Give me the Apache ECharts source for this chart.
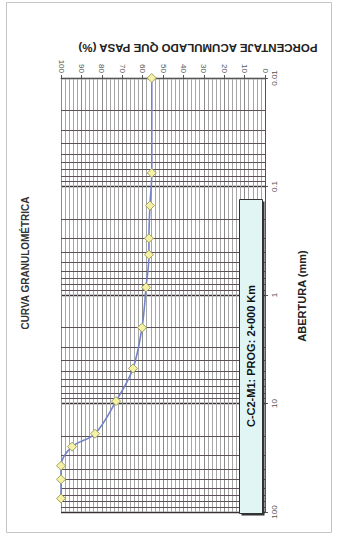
<!DOCTYPE html>
<html>
<head>
<meta charset="utf-8">
<script src="https://cdn.jsdelivr.net/npm/echarts@6/dist/echarts.min.js"></script>
<style>
  html, body { margin: 0; padding: 0; background: #ffffff; }
  #chart { width: 337px; height: 542px; }
</style>
</head>
<body>
<div id="chart"></div>
<script>
// Sieve openings (mm) and cumulative percent passing
const aberturas = [0.01, 0.075, 0.15, 0.3, 0.425, 0.85, 2.0, 4.75, 9.5, 19.0, 25.0, 37.5, 50.0, 75.0];
const pasa = [55.5, 55.5, 56.4, 56.9, 56.9, 58.3, 60.3, 64.7, 73.0, 83.3, 94.6, 100, 100, 100];

// Axis tick labels
const percentTicks = [0, 10, 20, 30, 40, 50, 60, 70, 80, 90, 100];
const sizeTicks = ['0.01', '0.1', '1', '10', '100'];
const decades = [0.01, 0.1, 1, 10];
const minorMultipliers = [2, 3, 4, 5, 6, 7, 8, 9];

const chartTitle = 'CURVA GRANULOMÉTRICA';
const percentTitle = 'PORCENTAJE ACUMULADO QUE PASA (%)';
const sizeTitle = 'ABERTURA (mm)';
const sampleName = 'C-C2-M1: PROG: 2+000 Km';

const points = aberturas.map((d, i) => [pasa[i], d]);

// Intermediate log grid lines (2..9 within each decade)
const minorLines = [];
decades.forEach(d => minorMultipliers.forEach(m => minorLines.push({ yAxis: d * m })));

const chart = echarts.init(document.getElementById('chart'), null, { renderer: 'svg' });

const FONT = '"Liberation Sans", Arial, sans-serif';

chart.setOption({
  animation: false,
  backgroundColor: '#ffffff',
  grid: { left: 61, right: 72, top: 78, bottom: 30, containLabel: false },
  xAxis: {
    type: 'value',
    position: 'top',
    min: 0,
    max: 100,
    interval: 10,
    inverse: true,
    axisLine: { show: true, lineStyle: { color: '#555555', width: 1 } },
    axisTick: { show: true, length: 3, lineStyle: { color: '#555555' } },
    axisLabel: {
      rotate: 90,
      fontSize: 8,
      color: '#555555',
      fontFamily: FONT,
      margin: 5,
      formatter: v => String(percentTicks[Math.round(v / 10)])
    },
    splitLine: { show: true, lineStyle: { color: '#8c8c8c', width: 1 } },
    minorTick: { show: false, splitNumber: 5 },
    minorSplitLine: { show: true, lineStyle: { color: '#a6a6a6', width: 1 } }
  },
  yAxis: {
    type: 'log',
    logBase: 10,
    min: 0.01,
    max: 100,
    splitNumber: 4,
    inverse: true,
    position: 'right',
    axisLine: { show: true, lineStyle: { color: '#555555', width: 1 } },
    axisTick: { show: true, length: 3, lineStyle: { color: '#555555' } },
    axisLabel: {
      rotate: 90,
      fontSize: 8,
      color: '#555555',
      fontFamily: FONT,
      margin: 5,
      formatter: v => sizeTicks[Math.round(Math.log10(v)) + 2]
    },
    splitLine: { show: true, lineStyle: { color: '#3a3036', width: 1.3 } }
  },
  series: [
    {
      type: 'line',
      data: [],
      z: 1,
      silent: true,
      markLine: {
        silent: true,
        symbol: 'none',
        animation: false,
        label: { show: false },
        lineStyle: { color: '#5e5058', width: 1, type: 'solid' },
        data: minorLines
      }
    },
    {
      type: 'line',
      data: points,
      z: 5,
      smooth: 0.35,
      symbol: 'diamond',
      symbolSize: 9,
      lineStyle: { color: '#7383c9', width: 1.6 },
      itemStyle: { color: '#f5f1a6', borderColor: '#a3a35e', borderWidth: 1 }
    }
  ],
  graphic: [
    {
      type: 'rect',
      z: 0,
      shape: { x: 6.5, y: 2.5, width: 325, height: 530 },
      style: { fill: 'none', stroke: '#c4c4c4', lineWidth: 1 }
    },
    {
      type: 'text',
      x: 25, y: 263,
      rotation: Math.PI / 2,
      style: {
        text: chartTitle, align: 'center', verticalAlign: 'middle',
        font: 'bold 10px ' + FONT, fill: '#333333'
      }
    },
    {
      type: 'text',
      x: 198, y: 48,
      rotation: Math.PI,
      style: {
        text: percentTitle, align: 'center', verticalAlign: 'middle',
        font: 'bold 11.5px ' + FONT, fill: '#222222'
      }
    },
    {
      type: 'text',
      x: 302, y: 296,
      rotation: Math.PI / 2,
      style: {
        text: sizeTitle, align: 'center', verticalAlign: 'middle',
        font: 'bold 11px ' + FONT, fill: '#222222'
      }
    },
    // Sample legend box with drop shadow
    {
      type: 'rect',
      z: 100,
      shape: { x: 241.5, y: 201.5, width: 23, height: 314 },
      style: { fill: '#333333' }
    },
    {
      type: 'rect',
      z: 101,
      shape: { x: 239.5, y: 199.5, width: 23, height: 314 },
      style: { fill: '#e2f5f5', stroke: '#333333', lineWidth: 1 }
    },
    {
      type: 'text',
      z: 102,
      x: 251, y: 356,
      rotation: Math.PI / 2,
      style: {
        text: sampleName, align: 'center', verticalAlign: 'middle',
        font: 'bold 11px ' + FONT, fill: '#111111'
      }
    }
  ]
});
</script>
</body>
</html>
